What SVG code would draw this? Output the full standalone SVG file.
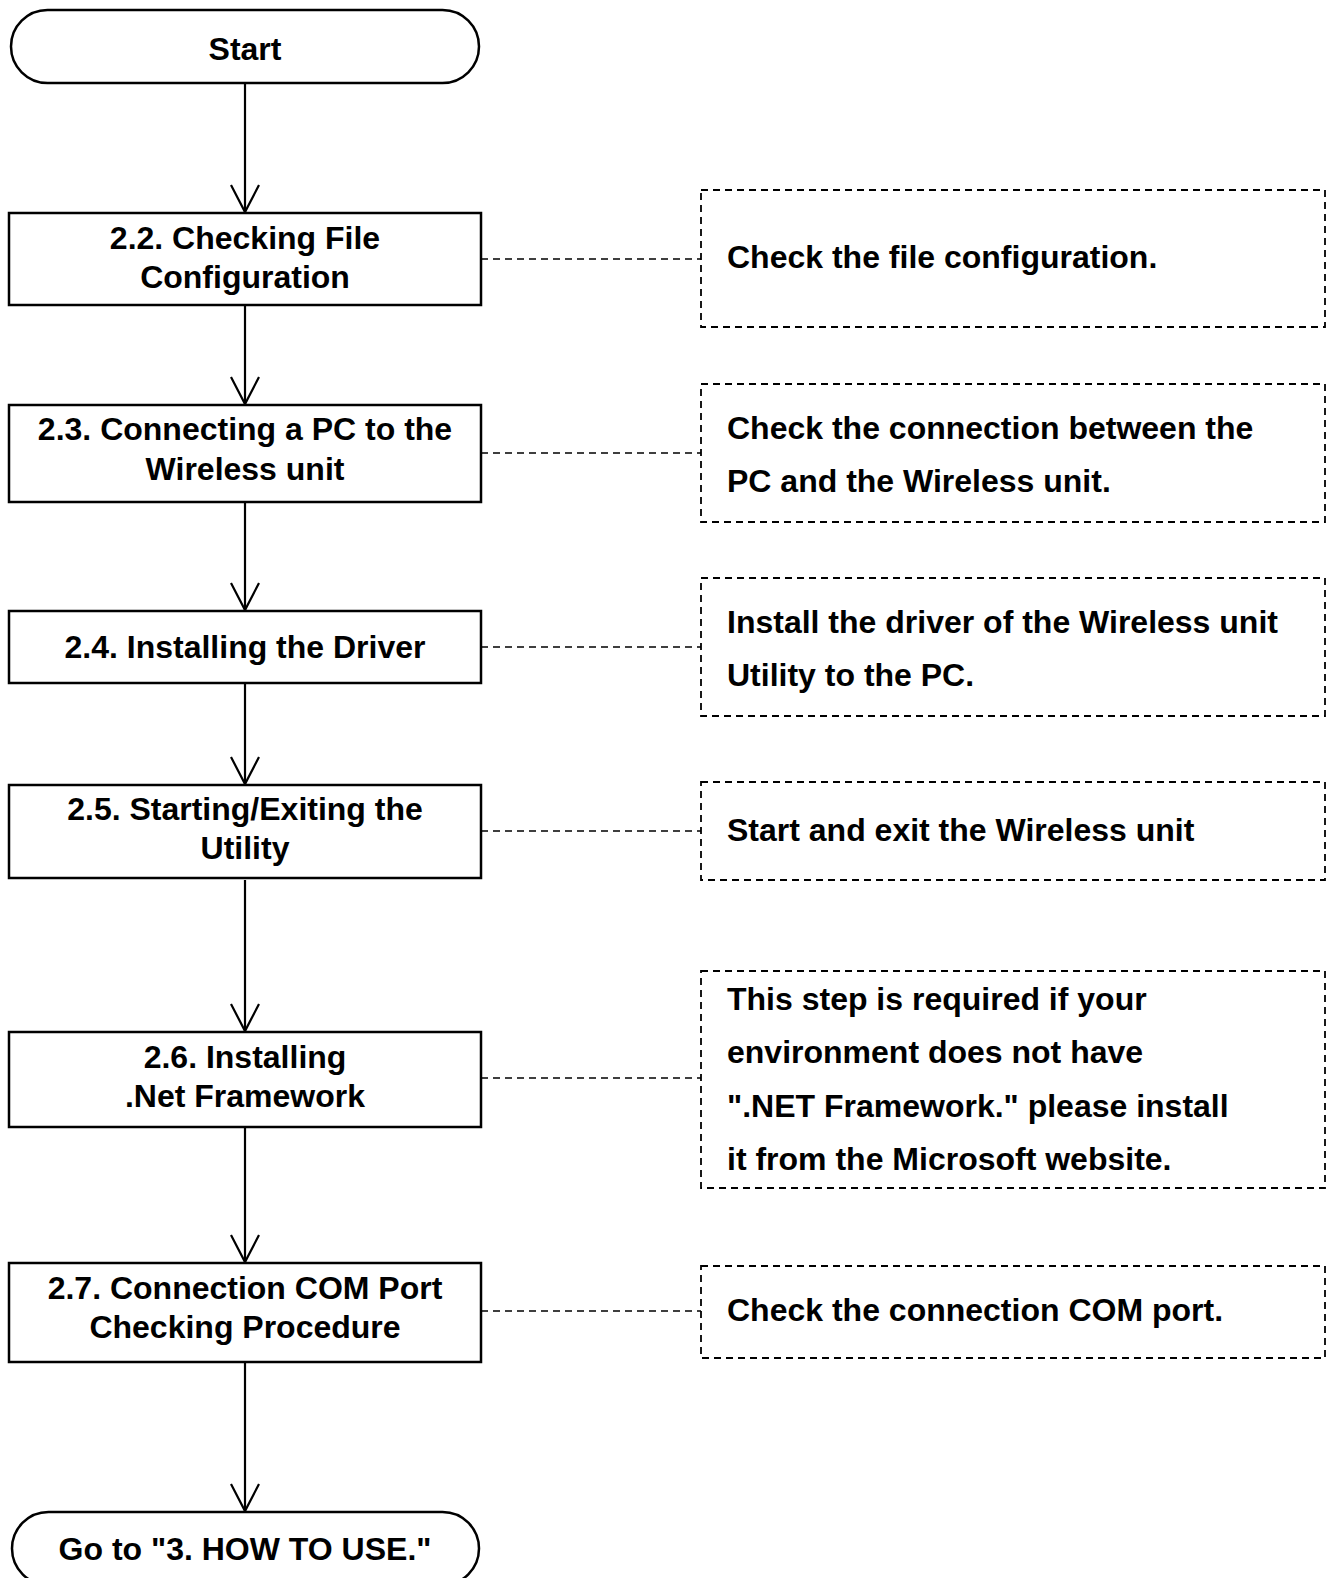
<svg xmlns="http://www.w3.org/2000/svg" width="1330" height="1578" viewBox="0 0 1330 1578">
<style>
.box{fill:#fff;stroke:#000;stroke-width:2.5}
.note{fill:none;stroke:#000;stroke-width:1.8;stroke-dasharray:7 5}
.flow{fill:none;stroke:#000;stroke-width:2.2}
.dash{fill:none;stroke:#000;stroke-width:1.6;stroke-dasharray:7 5}
text{font-family:"Liberation Sans",Arial,sans-serif;font-weight:bold;font-size:32px;fill:#000}
.c{text-anchor:middle}
</style>
<defs>
<marker id="arr" markerUnits="userSpaceOnUse" markerWidth="32" markerHeight="34" viewBox="0 0 32 34" refX="29" refY="17" orient="auto">
<path d="M2,3 L29,17 L2,31" fill="none" stroke="#000" stroke-width="2.2"/>
</marker>
</defs>
<rect width="1330" height="1578" fill="#fff"/>
<g id="connectors">
<line class="flow" x1="245" y1="83" x2="245" y2="212" marker-end="url(#arr)"/>
<line class="flow" x1="245" y1="305" x2="245" y2="404" marker-end="url(#arr)"/>
<line class="flow" x1="245" y1="502" x2="245" y2="610" marker-end="url(#arr)"/>
<line class="flow" x1="245" y1="683" x2="245" y2="784" marker-end="url(#arr)"/>
<line class="flow" x1="245" y1="880" x2="245" y2="1031" marker-end="url(#arr)"/>
<line class="flow" x1="245" y1="1127" x2="245" y2="1262" marker-end="url(#arr)"/>
<line class="flow" x1="245" y1="1362" x2="245" y2="1511" marker-end="url(#arr)"/>
<line class="dash" x1="481" y1="259" x2="701" y2="259"/>
<line class="dash" x1="481" y1="453" x2="701" y2="453"/>
<line class="dash" x1="481" y1="647" x2="701" y2="647"/>
<line class="dash" x1="481" y1="831" x2="701" y2="831"/>
<line class="dash" x1="481" y1="1078" x2="701" y2="1078"/>
<line class="dash" x1="481" y1="1311" x2="701" y2="1311"/>
</g>
<g id="start">
<rect class="box" x="11" y="10" width="468" height="73" rx="36.5"/>
<text class="c" x="245" y="60">Start</text>
</g>
<g id="s22">
<rect class="box" x="9" y="213" width="472" height="92"/>
<text class="c" x="245" y="249">2.2. Checking File</text>
<text class="c" x="245" y="288">Configuration</text>
</g>
<g id="s23">
<rect class="box" x="9" y="405" width="472" height="97"/>
<text class="c" x="245" y="440">2.3. Connecting a PC to the</text>
<text class="c" x="245" y="480">Wireless unit</text>
</g>
<g id="s24">
<rect class="box" x="9" y="611" width="472" height="72"/>
<text class="c" x="245" y="658">2.4. Installing the Driver</text>
</g>
<g id="s25">
<rect class="box" x="9" y="785" width="472" height="93"/>
<text class="c" x="245" y="820">2.5. Starting/Exiting the</text>
<text class="c" x="245" y="859">Utility</text>
</g>
<g id="s26">
<rect class="box" x="9" y="1032" width="472" height="95"/>
<text class="c" x="245" y="1068">2.6. Installing</text>
<text class="c" x="245" y="1107">.Net Framework</text>
</g>
<g id="s27">
<rect class="box" x="9" y="1263" width="472" height="99"/>
<text class="c" x="245" y="1299">2.7. Connection COM Port</text>
<text class="c" x="245" y="1338">Checking Procedure</text>
</g>
<g id="end">
<rect class="box" x="12" y="1512" width="467" height="73" rx="36.5"/>
<text class="c" x="245" y="1560">Go to "3. HOW TO USE."</text>
</g>
<g id="n22">
<rect class="note" x="701" y="190" width="624" height="137"/>
<text x="727" y="268">Check the file configuration.</text>
</g>
<g id="n23">
<rect class="note" x="701" y="384" width="624" height="138"/>
<text x="727" y="439">Check the connection between the</text>
<text x="727" y="492">PC and the Wireless unit.</text>
</g>
<g id="n24">
<rect class="note" x="701" y="578" width="624" height="138"/>
<text x="727" y="633">Install the driver of the Wireless unit</text>
<text x="727" y="686">Utility to the PC.</text>
</g>
<g id="n25">
<rect class="note" x="701" y="782" width="624" height="98"/>
<text x="727" y="841">Start and exit the Wireless unit</text>
</g>
<g id="n26">
<rect class="note" x="701" y="971" width="624" height="217"/>
<text x="727" y="1010">This step is required if your</text>
<text x="727" y="1063">environment does not have</text>
<text x="727" y="1117">".NET Framework." please install</text>
<text x="727" y="1170">it from the Microsoft website.</text>
</g>
<g id="n27">
<rect class="note" x="701" y="1266" width="624" height="92"/>
<text x="727" y="1321">Check the connection COM port.</text>
</g>
</svg>
